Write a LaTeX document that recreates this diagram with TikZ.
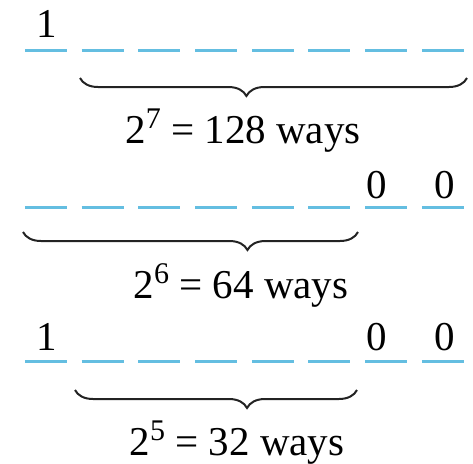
\documentclass[tikz,border=0pt]{standalone}
\usepackage{fontspec}
\setmainfont{Liberation Serif}
\usetikzlibrary{decorations.pathreplacing,positioning}
\definecolor{SlotBlue}{RGB}{100,190,225}
\definecolor{BraceGray}{RGB}{35,35,35}
\newcommand{\powsup}[1]{\raisebox{7.5pt}{\fontsize{15}{16}\selectfont #1}}
\tikzset{
  slot/.style={SlotBlue,line width=1.5pt},
  underbrace/.style={decorate,decoration={brace,mirror,amplitude=9pt,aspect=#1},line width=1pt,BraceGray},
  digit/.style={anchor=base,inner sep=0pt},
  ways/.style={anchor=base,inner sep=0pt},
}

\begin{document}
\begin{tikzpicture}[x=0.5pt,y=-0.5pt,font=\fontsize{20.5}{24}\selectfont]
  \useasboundingbox (0,0) rectangle (473,463);
  % eight slots in each of the three rows
  \foreach \y in {50,207,361}{
    \foreach \i in {0,...,7}{
      \draw[slot] ({25+56.7*\i},\y) -- ({67+56.7*\i},\y);
    }
  }

  % first row: leading 1
  \node[digit] (one1) at (47,37) {1};
  \coordinate (b1s) at (80,78);
  \coordinate (b1e) at (467,78);
  \draw[underbrace=0.43] (b1s) -- (b1e);
  \node[ways] (ways1) at (243,143) {2\powsup{7} = 128 ways};

  % second row: trailing 00
  \node[digit] (zeroa2) at (377,198) {0};
  \node[digit] (zerob2) at (445,198) {0};
  \coordinate (b2s) at (23,232);
  \coordinate (b2e) at (358,232);
  \draw[underbrace=0.67] (b2s) -- (b2e);
  \node[ways] (ways2) at (241,298) {2\powsup{6} = 64 ways};

  % third row: 1 ... 00
  \node[digit] (one3) at (47,350) {1};
  \node[digit] (zeroa3) at (377,350) {0};
  \node[digit] (zerob3) at (445,350) {0};
  \coordinate (b3s) at (75,390);
  \coordinate (b3e) at (357,390);
  \draw[underbrace=0.61] (b3s) -- (b3e);
  \node[ways] (ways3) at (237,455) {2\powsup{5} = 32 ways};
\end{tikzpicture}
\end{document}
